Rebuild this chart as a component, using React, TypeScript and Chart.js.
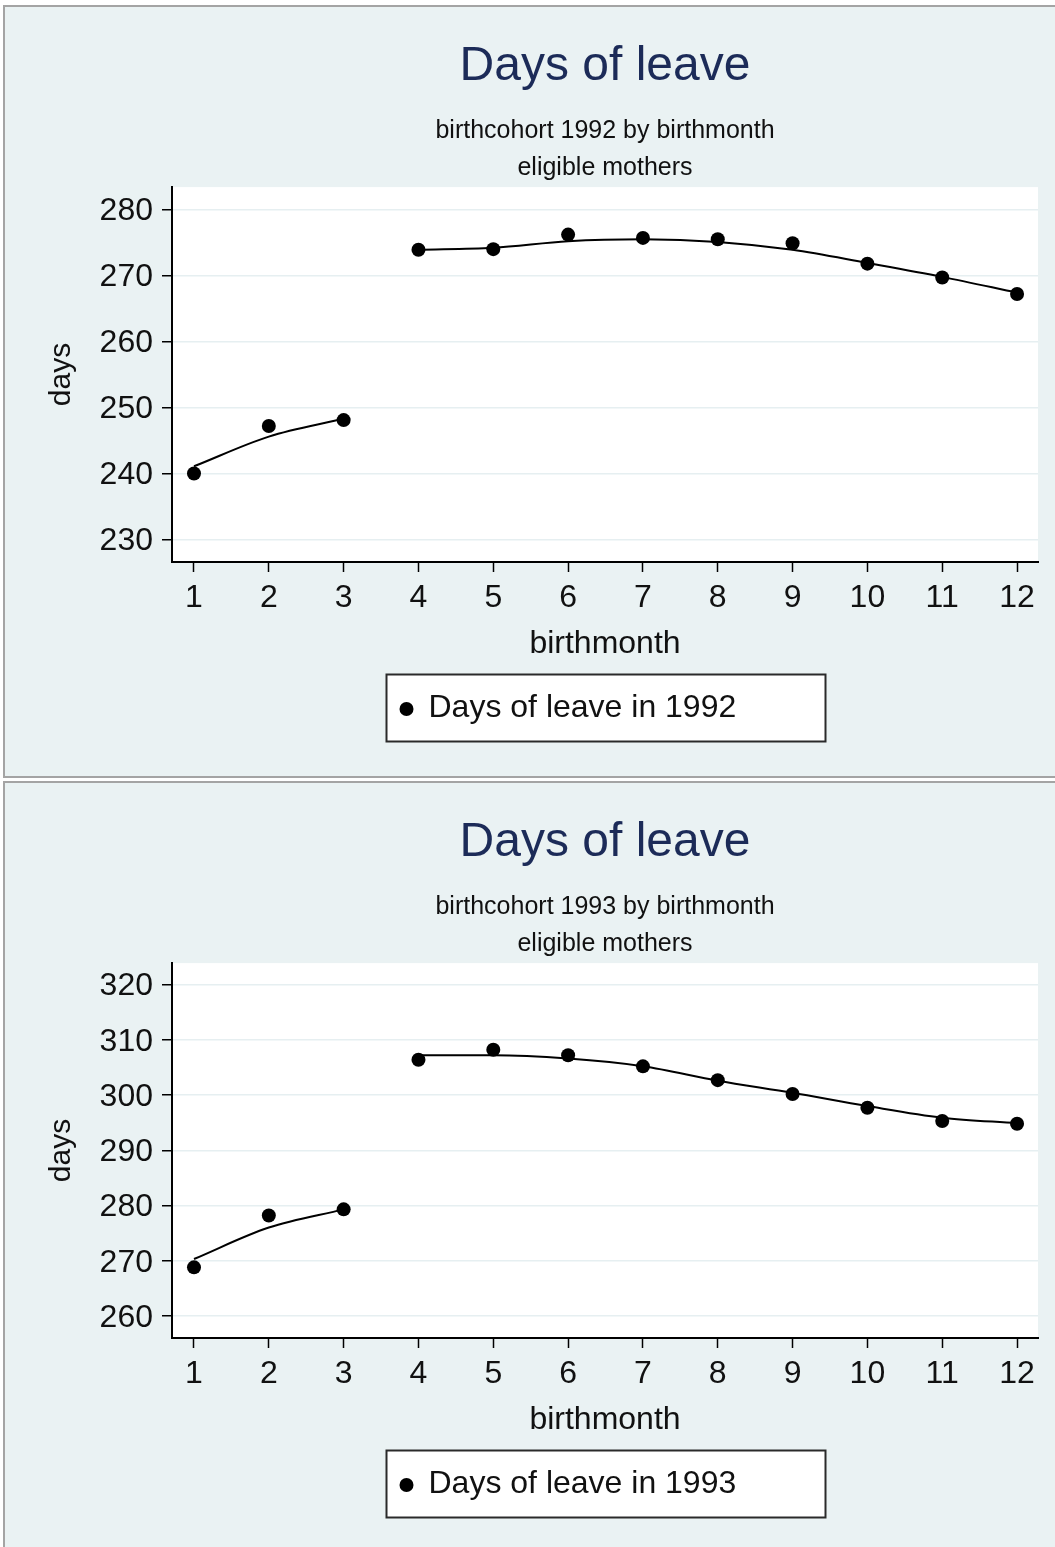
import React, { useEffect, useRef } from "react";
import { Chart, registerables } from "chart.js";

Chart.register(...registerables);

// ---- data ----
const months = [1, 2, 3, 4, 5, 6, 7, 8, 9, 10, 11, 12];
const earlyMonths = [1, 2, 3];
const lateMonths = [4, 5, 6, 7, 8, 9, 10, 11, 12];

const leave1992 = [240.0, 247.2, 248.1, 273.9, 274.0, 276.2, 275.7, 275.5, 274.9, 271.8, 269.7, 267.2];
const fit1992Early = [241.1, 245.6, 248.3];
const fit1992Late = [273.9, 274.2, 275.2, 275.5, 275.1, 273.9, 271.9, 269.8, 267.4];
const yTicks1992 = [230, 240, 250, 260, 270, 280];

const leave1993 = [268.8, 278.2, 279.3, 306.4, 308.2, 307.2, 305.2, 302.7, 300.2, 297.7, 295.3, 294.8];
const fit1993Early = [270.3, 276.0, 279.3];
const fit1993Late = [307.2, 307.2, 306.6, 305.2, 302.6, 300.4, 298.0, 295.9, 294.9];
const yTicks1993 = [260, 270, 280, 290, 300, 310, 320];

const FONT = '"Liberation Sans", Arial, Helvetica, sans-serif';
const BG = "#eaf2f3";

const plotBg = {
  id: "plotBg",
  beforeDraw(chart: any) {
    const { ctx, chartArea: a } = chart;
    ctx.save();
    ctx.fillStyle = "#ffffff";
    ctx.fillRect(a.left, a.top, a.right - a.left, a.bottom - a.top);
    ctx.restore();
  },
};

const boxLegend = {
  id: "boxLegend",
  afterDraw(chart: any) {
    const { ctx, chartArea: a } = chart;
    const xs = chart.scales.x;
    const w = 439;
    const h = 67;
    const cx = (a.left + a.right) / 2;
    const left = Math.round(cx - w / 2) + 0.5;
    const top = Math.round(xs.bottom + 2) + 0.5;
    ctx.save();
    ctx.fillStyle = "#ffffff";
    ctx.fillRect(left, top, w, h);
    ctx.strokeStyle = "#2a2a2a";
    ctx.lineWidth = 2;
    ctx.strokeRect(left, top, w, h);
    const cy = top + h / 2;
    ctx.fillStyle = "#000";
    ctx.beginPath();
    ctx.arc(left + 20, cy + 1, 7, 0, Math.PI * 2);
    ctx.fill();
    ctx.font = `32px ${FONT}`;
    ctx.textBaseline = "middle";
    ctx.textAlign = "left";
    ctx.fillStyle = "#111";
    ctx.fillText(chart.data.datasets[0].label, left + 42, cy);
    ctx.restore();
  },
};

type PanelProps = {
  year: string;
  values: number[];
  fitEarly: number[];
  fitLate: number[];
  yTicks: number[];
  yMin: number;
  yMax: number;
  height: number;
};

function Panel({ year, values, fitEarly, fitLate, yTicks, yMin, yMax, height }: PanelProps) {
  const ref = useRef<HTMLCanvasElement | null>(null);
  useEffect(() => {
    if (!ref.current) return;
    const chart = new Chart(ref.current, {
      type: "scatter",
      data: {
        datasets: [
          {
            label: `Days of leave in ${year}`,
            data: months.map((m, i) => ({ x: m, y: values[i] })),
            showLine: false,
            pointRadius: 7,
            pointBackgroundColor: "#000",
            pointBorderColor: "#000",
            pointBorderWidth: 0,
          },
          {
            label: "fit early",
            data: earlyMonths.map((m, i) => ({ x: m, y: fitEarly[i] })),
            showLine: true,
            pointRadius: 0,
            borderColor: "#000",
            borderWidth: 2,
            cubicInterpolationMode: "monotone",
          },
          {
            label: "fit late",
            data: lateMonths.map((m, i) => ({ x: m, y: fitLate[i] })),
            showLine: true,
            pointRadius: 0,
            borderColor: "#000",
            borderWidth: 2,
            cubicInterpolationMode: "monotone",
          },
        ],
      } as any,
      options: {
        responsive: false,
        maintainAspectRatio: false,
        animation: false,
        events: [],
        layout: { padding: { left: 0, right: 17, top: 0, bottom: height - 555 - 110 } },
        plugins: {
          legend: { display: false },
          tooltip: { enabled: false },
          title: {
            display: true,
            text: "Days of leave",
            color: "#1c2b58",
            fullSize: false,
            font: { family: FONT, size: 48, weight: "normal", lineHeight: 1.2 },
            padding: { top: 31, bottom: 0 },
          },
          subtitle: {
            display: true,
            text: [`birthcohort ${year} by birthmonth`, "eligible mothers"],
            color: "#111",
            fullSize: false,
            font: { family: FONT, size: 25, weight: "normal", lineHeight: 1.5 },
            padding: { top: 16.5, bottom: 0 },
          },
        },
        scales: {
          x: {
            type: "linear",
            min: 0.706,
            max: 12.28,
            afterFit: (s: any) => {
              s.height = 110;
            },
            afterBuildTicks: (s: any) => {
              s.ticks = months.map((v) => ({ value: v }));
            },
            ticks: {
              autoSkip: false,
              maxRotation: 0,
              padding: 7,
              color: "#111",
              font: { family: FONT, size: 32 },
            },
            grid: {
              drawOnChartArea: false,
              drawTicks: true,
              tickLength: 10,
              tickColor: "#000",
              tickWidth: 1.5,
            },
            border: { display: true, color: "#000", width: 2 },
            title: {
              display: true,
              text: "birthmonth",
              color: "#111",
              font: { family: FONT, size: 32 },
              padding: { top: 0, bottom: 8.5 },
            },
          },
          y: {
            type: "linear",
            min: yMin,
            max: yMax,
            afterFit: (s: any) => {
              s.width = 167;
            },
            afterBuildTicks: (s: any) => {
              s.ticks = yTicks.map((v) => ({ value: v }));
            },
            ticks: {
              padding: 9,
              labelOffset: 2,
              color: "#111",
              font: { family: FONT, size: 32 },
            },
            grid: {
              color: "#e6eff1",
              lineWidth: 1.5,
              drawTicks: true,
              tickLength: 10,
              tickColor: "#000",
              tickWidth: 1.5,
            },
            border: { display: true, color: "#000", width: 2 },
            title: {
              display: true,
              text: "days",
              color: "#111",
              font: { family: FONT, size: 30 },
              padding: { top: 39, bottom: 0 },
            },
          },
        },
      } as any,
      plugins: [plotBg, boxLegend],
    });
    return () => chart.destroy();
  }, []);
  return <canvas ref={ref} width={1050} height={height} style={{ display: "block", width: 1050, height }} />;
}

export default function App() {
  return (
    <div
      style={{
        position: "absolute",
        left: 0,
        top: 0,
        width: 1055,
        height: 1547,
        overflow: "hidden",
        background: "#ffffff",
      }}
    >
      <div
        style={{
          position: "absolute",
          left: 3,
          top: 5,
          width: 1052,
          height: 773,
          boxSizing: "border-box",
          borderLeft: "2px solid #a4a4a4",
          borderTop: "2px solid #a4a4a4",
          borderBottom: "2px solid #a4a4a4",
          background: BG,
          overflow: "hidden",
        }}
      >
        <Panel
          year="1992"
          values={leave1992}
          fitEarly={fit1992Early}
          fitLate={fit1992Late}
          yTicks={yTicks1992}
          yMin={226.6}
          yMax={283.4}
          height={769}
        />
      </div>
      <div
        style={{
          position: "absolute",
          left: 3,
          top: 781,
          width: 1052,
          height: 766,
          boxSizing: "border-box",
          borderLeft: "2px solid #a4a4a4",
          borderTop: "2px solid #a4a4a4",
          background: BG,
          overflow: "hidden",
        }}
      >
        <Panel
          year="1993"
          values={leave1993}
          fitEarly={fit1993Early}
          fitLate={fit1993Late}
          yTicks={yTicks1993}
          yMin={256.0}
          yMax={323.9}
          height={764}
        />
      </div>
    </div>
  );
}
